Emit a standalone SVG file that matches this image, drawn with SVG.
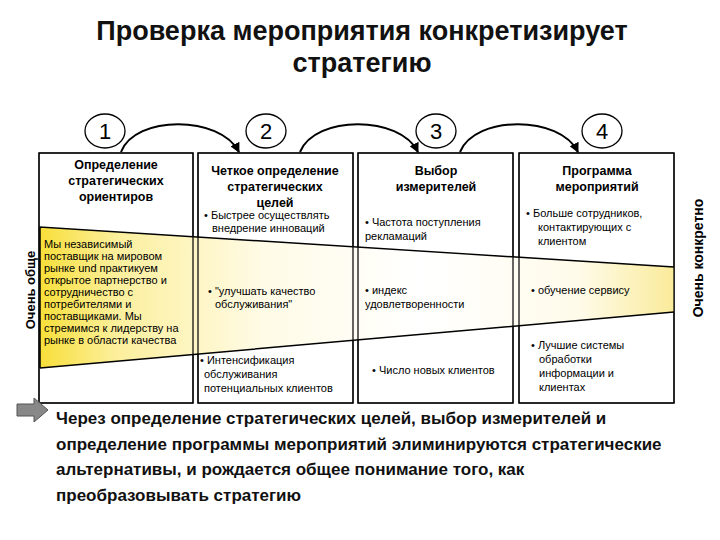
<svg xmlns="http://www.w3.org/2000/svg" width="720" height="540" viewBox="0 0 720 540">
<defs>
<linearGradient id="g" x1="0" y1="0" x2="1" y2="0">
<stop offset="0" stop-color="#f8df3a"/><stop offset="0.12" stop-color="#fcef9c"/><stop offset="0.35" stop-color="#fffbe6"/><stop offset="0.6" stop-color="#ffffff"/><stop offset="0.85" stop-color="#fffbea"/><stop offset="1" stop-color="#faeb9a"/>
</linearGradient>
<marker id="ah" viewBox="0 0 10 10" refX="9" refY="5" markerWidth="5" markerHeight="5" orient="auto"><path d="M0,0 L10,5 L0,10 z" fill="#000"/></marker>
<style>
.box{fill:#fff;stroke:#000;stroke-width:1.2}
.ol{fill:none;stroke:#000;stroke-width:1.2}
.h{font-family:"Liberation Sans",Arial,sans-serif;font-size:12.5px;font-weight:bold;text-anchor:middle}
.t{font-family:"Liberation Sans",Arial,sans-serif;font-size:11px}
.n{font-family:"Liberation Sans",Arial,sans-serif;font-size:22px;text-anchor:middle}
.c{fill:#fff;stroke:#000;stroke-width:1.3}
</style>
</defs>
<rect width="720" height="540" fill="#fff"/>
<text x="362" y="40" font-family="Liberation Sans,Arial,sans-serif" font-size="27" font-weight="bold" text-anchor="middle" fill="#111">Проверка мероприятия конкретизирует</text>
<text x="362" y="72" font-family="Liberation Sans,Arial,sans-serif" font-size="27" font-weight="bold" text-anchor="middle" fill="#111">стратегию</text>
<g id="col1"><rect class="box" x="39" y="153" width="154" height="250"/>
<text class="h" x="116" y="169">Определение</text><text class="h" x="116" y="185">стратегических</text><text class="h" x="116" y="201">ориентиров</text></g>
<g id="col2"><rect class="box" x="198" y="153" width="155" height="250"/>
<text class="h" x="275" y="175">Четкое определение</text><text class="h" x="275" y="191">стратегических</text><text class="h" x="275" y="207">целей</text></g>
<g id="col3"><rect class="box" x="358" y="153" width="155" height="250"/>
<text class="h" x="436" y="175">Выбор</text><text class="h" x="436" y="191">измерителей</text></g>
<g id="col4"><rect class="box" x="519" y="153" width="155" height="250"/>
<text class="h" x="597" y="175">Программа</text><text class="h" x="597" y="191">мероприятий</text></g>
<g id="band"><path d="M40,227 L674,267 L674,312 L40,368 Z" fill="url(#g)" stroke="none"/>
<rect class="ol" x="39" y="153" width="154" height="250"/><rect class="ol" x="198" y="153" width="155" height="250"/><rect class="ol" x="358" y="153" width="155" height="250"/><rect class="ol" x="519" y="153" width="155" height="250"/>
<path d="M40,368 L40,227 L674,267 M40,368 L674,312" fill="none" stroke="#000" stroke-width="1.5"/></g>
<g id="texts" class="t">
<text x="44" y="248">Мы независимый</text><text x="44" y="260">поставщик на мировом</text><text x="44" y="272">рынке und практикуем</text><text x="44" y="284">открытое партнерство и</text><text x="44" y="296">сотрудничество с</text><text x="44" y="308">потребителями и</text><text x="44" y="320">поставщиками. Мы</text><text x="44" y="332">стремимся к лидерству на</text><text x="44" y="344">рынке в области качества</text>
<text x="204" y="219">• Быстрее осуществлять</text><text x="212" y="232">внедрение инноваций</text>
<text x="208" y="295">• "улучшать качество</text><text x="215" y="308">обслуживания"</text>
<text x="200" y="364">• Интенсификация</text><text x="204" y="378">обслуживания</text><text x="204" y="392">потенциальных клиентов</text>
<text x="365" y="226">• Частота поступления</text><text x="365" y="240">рекламаций</text>
<text x="365" y="294">• индекс</text><text x="365" y="308">удовлетворенности</text>
<text x="372" y="374">• Число новых клиентов</text>
<text x="526" y="217">• Больше сотрудников,</text><text x="538" y="231">контактирующих с</text><text x="538" y="245">клиентом</text>
<text x="531" y="294">• обучение сервису</text>
<text x="531" y="349">• Лучшие системы</text><text x="539" y="363">обработки</text><text x="539" y="377">информации и</text><text x="539" y="391">клиентах</text>
</g>
<g id="circles">
<ellipse class="c" cx="105" cy="131" rx="20" ry="17"/><text class="n" x="105" y="139">1</text>
<ellipse class="c" cx="266" cy="131" rx="20" ry="17"/><text class="n" x="266" y="139">2</text>
<ellipse class="c" cx="436" cy="131" rx="20" ry="17"/><text class="n" x="436" y="139">3</text>
<ellipse class="c" cx="602" cy="131" rx="20" ry="17"/><text class="n" x="602" y="139">4</text>
</g>
<g id="connectors" fill="none" stroke="#000" stroke-width="2">
<path d="M121,152 C135,115 220,115 239,152" marker-end="url(#ah)"/>
<path d="M300,152 C315,115 400,115 418,152" marker-end="url(#ah)"/>
<path d="M460,152 C475,115 560,115 578,152" marker-end="url(#ah)"/>
</g>
<text transform="translate(35,290) rotate(-90)" font-family="Liberation Sans,Arial,sans-serif" font-size="13" font-weight="bold" text-anchor="middle">Очень обще</text>
<text transform="translate(703,258) rotate(-90)" font-family="Liberation Sans,Arial,sans-serif" font-size="14" font-weight="bold" text-anchor="middle">Очень конкретно</text>
<path d="M17,404 L34,404 L34,398 L48,410 L34,422 L34,416 L17,416 Z" fill="#888" stroke="#555"/>
<g font-family="Liberation Sans,Arial,sans-serif" font-size="17" font-weight="bold" fill="#111">
<text x="56" y="424">Через определение стратегических целей, выбор измерителей и</text>
<text x="56" y="450">определение программы мероприятий элиминируются стратегические</text>
<text x="56" y="475">альтернативы, и рождается общее понимание того, как</text>
<text x="56" y="501">преобразовывать стратегию</text>
</g>
</svg>
